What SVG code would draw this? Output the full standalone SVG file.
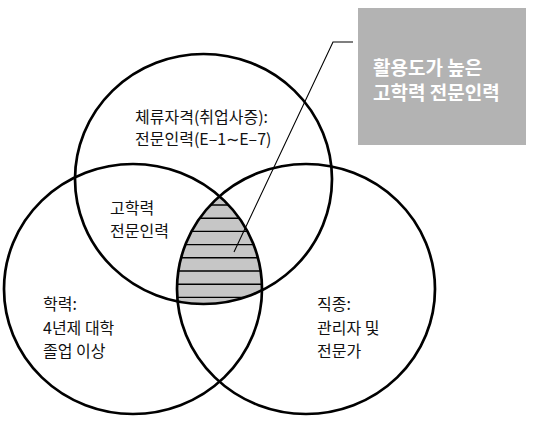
<svg xmlns="http://www.w3.org/2000/svg" width="534" height="428" viewBox="0 0 534 428">
  <style>
    .ring { fill: none; stroke: #000; stroke-width: 2.7; }
    .hatch { stroke: #000; stroke-width: 1.4; }
    .lbl { font-family: "Noto Sans CJK KR", "Noto Sans", sans-serif; font-size: 16px; fill: #111; }
    .box-lbl { font-family: "Noto Sans CJK KR", "Noto Sans", sans-serif; font-size: 19px; font-weight: bold; fill: #fff; }
    .leader { fill: none; stroke: #000; stroke-width: 1.1; }
  </style>
  <defs>
    <clipPath id="clipLeft"><ellipse cx="133" cy="289" rx="129" ry="125"/></clipPath>
    <clipPath id="clipRight"><ellipse cx="306" cy="289" rx="129" ry="125"/></clipPath>
    <clipPath id="clipTop"><ellipse cx="203.5" cy="179" rx="128.5" ry="125"/></clipPath>
  </defs>
  <rect width="534" height="428" fill="#fff"/>

  <g id="intersection">
    <g clip-path="url(#clipLeft)">
      <g clip-path="url(#clipRight)">
        <ellipse cx="203.5" cy="179" rx="128.5" ry="125" fill="#c6c6c6"/>
        <g clip-path="url(#clipTop)">
          <line class="hatch" x1="150" y1="205" x2="300" y2="205"/>
          <line class="hatch" x1="150" y1="218.2" x2="300" y2="218.2"/>
          <line class="hatch" x1="150" y1="231.4" x2="300" y2="231.4"/>
          <line class="hatch" x1="150" y1="244.6" x2="300" y2="244.6"/>
          <line class="hatch" x1="150" y1="257.8" x2="300" y2="257.8"/>
          <line class="hatch" x1="150" y1="271" x2="300" y2="271"/>
          <line class="hatch" x1="150" y1="284.2" x2="300" y2="284.2"/>
          <line class="hatch" x1="150" y1="297.4" x2="300" y2="297.4"/>
        </g>
      </g>
    </g>
  </g>

  <g id="set-visa">
    <ellipse class="ring" cx="203.5" cy="179" rx="128.5" ry="125"/>
    <text class="lbl" x="135" y="123">체류자격(취업사증):</text>
    <text class="lbl" x="135" y="145">전문인력(E–1∼E–7)</text>
  </g>

  <g id="set-education">
    <ellipse class="ring" cx="133" cy="289" rx="129" ry="125"/>
    <text class="lbl" x="43" y="310">학력:</text>
    <text class="lbl" x="43" y="334">4년제 대학</text>
    <text class="lbl" x="43" y="357">졸업 이상</text>
  </g>

  <g id="set-occupation">
    <ellipse class="ring" cx="306" cy="289" rx="129" ry="125"/>
    <text class="lbl" x="317" y="310">직종:</text>
    <text class="lbl" x="317" y="334">관리자 및</text>
    <text class="lbl" x="317" y="357">전문가</text>
  </g>

  <g id="label-highskill">
    <text class="lbl" x="110" y="214">고학력</text>
    <text class="lbl" x="110" y="237">전문인력</text>
  </g>

  <g id="callout">
    <rect x="358" y="8" width="168" height="137" fill="#b3b3b3"/>
    <text class="box-lbl" x="373" y="75">활용도가 높은</text>
    <text class="box-lbl" x="373" y="100">고학력 전문인력</text>
  </g>

  <g id="connectors">
    <polyline class="leader" points="353,42 333,42 234,252"/>
  </g>
</svg>
